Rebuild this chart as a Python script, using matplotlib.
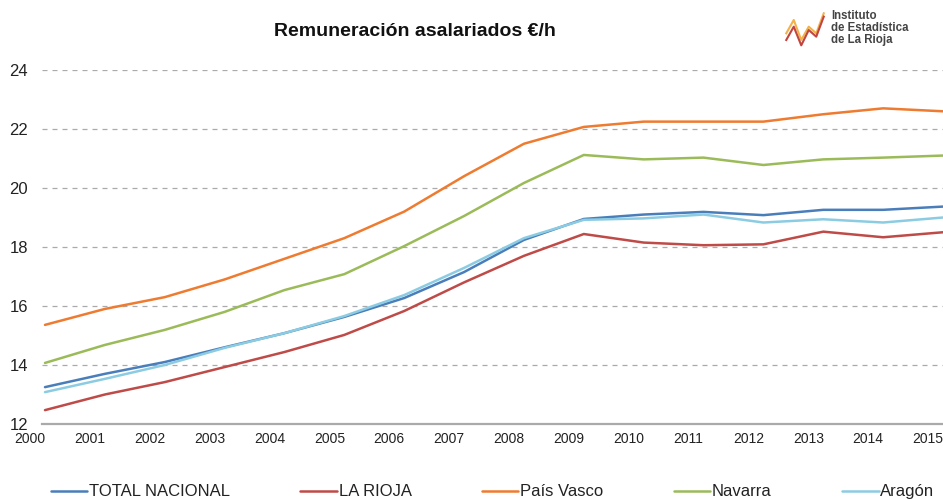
import numpy as np
import matplotlib
matplotlib.use("Agg")
import matplotlib.pyplot as plt

# annual values (euros per hour)
years = np.arange(2000, 2016)
total_nacional = [13.25, 13.70, 14.10, 14.60, 15.08, 15.63, 16.27, 17.15,
                  18.24, 18.95, 19.10, 19.19, 19.08, 19.26, 19.26, 19.37]
la_rioja = [12.47, 13.00, 13.42, 13.93, 14.44, 15.02, 15.83, 16.80,
            17.70, 18.44, 18.15, 18.06, 18.09, 18.52, 18.33, 18.50]
pais_vasco = [15.36, 15.90, 16.30, 16.90, 17.60, 18.30, 19.20, 20.40,
              21.50, 22.07, 22.25, 22.25, 22.25, 22.50, 22.70, 22.60]
navarra = [14.07, 14.68, 15.19, 15.80, 16.54, 17.08, 18.03, 19.05,
           20.17, 21.12, 20.97, 21.03, 20.78, 20.97, 21.03, 21.10]
aragon = [13.08, 13.53, 14.00, 14.58, 15.08, 15.66, 16.37, 17.29,
          18.30, 18.92, 18.97, 19.10, 18.83, 18.94, 18.83, 19.00]

names = ["TOTAL NACIONAL", "LA RIOJA", "País Vasco", "Navarra", "Aragón"]
colors = ["#4A7EBB", "#BE4B48", "#EE7B30", "#9BBB59", "#8CCCE2"]
series = [total_nacional, la_rioja, pais_vasco, navarra, aragon]

plt.rcParams['font.family'] = ['Liberation Sans', 'DejaVu Sans']

fig = plt.figure(figsize=(9.43, 5.0), dpi=100)
ax = fig.add_axes([42 / 943, 1 - 424 / 500, 1 - 42 / 943, (424 - 70) / 500])

# points sit a quarter year to the right of their labels
xpos = years + 0.25
lines = []
for vals, name, col in zip(series, names, colors):
    ln, = ax.plot(xpos, vals, color=col, lw=1.8, label=name, solid_capstyle='round')
    lines.append(ln)

ax.set_xlim(2000.2, 2015.25)
ax.set_ylim(12, 24)
ax.set_yticks(np.arange(12, 25, 2))
ax.set_xticks(years[1:])
ax.set_xticklabels([str(y) for y in years[1:]])
ax.text(2000, -0.022, "2000", transform=ax.get_xaxis_transform(), ha='center', va='top',
        fontsize=10, color='#222222', clip_on=False)

ax.grid(axis='y', color='#AAAAAA', linestyle=(0, (4, 4)), lw=0.9)
ax.set_axisbelow(True)
for s in ['top', 'right', 'left']:
    ax.spines[s].set_visible(False)
ax.spines['bottom'].set_color('#AAAAAA')
ax.spines['bottom'].set_linewidth(1.6)
ax.tick_params(axis='both', length=0)
ax.tick_params(axis='y', labelsize=12, pad=10, labelcolor='#222222')
ax.tick_params(axis='x', labelsize=10, pad=5.5, labelcolor='#222222')

fig.text(415 / 943, 1 - 32 / 500, "Remuneración asalariados €/h", ha='center', va='center',
         fontsize=14, fontweight='bold', color='#111111')

# logo text + small zigzag mark
fig.text(831 / 943, 1 - 28 / 500, "Instituto\nde Estadística\nde La Rioja", ha='left', va='center',
         fontsize=8.3, fontweight='bold', color='#444444', linespacing=1.0)
lax = fig.add_axes([784 / 943, 1 - 50 / 500, 42 / 943, 40 / 500])
lax.plot([0, 1, 2, 3, 4, 5], [2, 4, 1, 3, 2, 5], color='#F2B24A', lw=1.5)
lax.plot([0, 1, 2, 3, 4, 5], [1, 3, 0.2, 2.5, 1.5, 4.5], color='#C2443F', lw=1.5)
lax.set_xlim(-0.3, 5.3)
lax.set_ylim(-0.5, 5.5)
lax.axis('off')

fig.legend(handles=lines, loc='lower left', bbox_to_anchor=(44 / 943, -0.012, 897 / 943, 0.06),
           mode='expand', ncol=5, frameon=False, fontsize=12, handlelength=2.2,
           handletextpad=0.1, borderaxespad=0.0, labelcolor='#222222')

fig.savefig("out.png", dpi=100)
